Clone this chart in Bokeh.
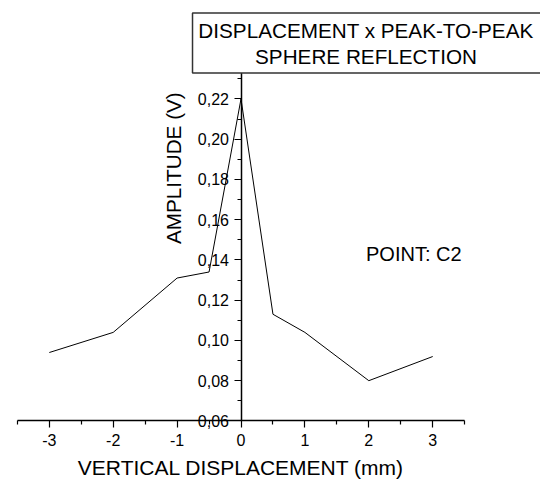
import math
from bokeh.plotting import figure
from bokeh.models import Range1d, FixedTicker, CustomJSTickFormatter, Label, BoxAnnotation
from bokeh.embed import file_html
from bokeh.resources import INLINE

# ---- data ----
displacement = [-3, -2, -1, -0.5, 0, 0.5, 1, 2, 3]
amplitude = [0.094, 0.104, 0.131, 0.134, 0.220, 0.113, 0.104, 0.080, 0.092]

x_ticks = [-3, -2, -1, 0, 1, 2, 3]
x_minor = [-3.5, -2.5, -1.5, -0.5, 0.5, 1.5, 2.5, 3.5]
y_ticks = [0.06, 0.08, 0.10, 0.12, 0.14, 0.16, 0.18, 0.20, 0.22]
y_minor = [0.07, 0.09, 0.11, 0.13, 0.15, 0.17, 0.19, 0.21, 0.23]

title_lines = ["DISPLACEMENT x PEAK-TO-PEAK", "SPHERE REFLECTION"]
x_label = "VERTICAL DISPLACEMENT (mm)"
y_label = "AMPLITUDE (V)"
note = "POINT: C2"

FONT = "Liberation Sans"

p = figure(width=540, height=479, output_backend="svg", toolbar_location=None,
           x_range=Range1d(-3.764, 4.687), y_range=Range1d(0.0309, 0.2689),
           min_border=0, min_border_left=0, min_border_right=0,
           min_border_top=0, min_border_bottom=0)
p.outline_line_color = None
p.grid.visible = False
p.background_fill_color = "white"
p.border_fill_color = "white"

p.line(displacement, amplitude, line_color="black", line_width=1)

# axes crossing inside the frame
xa = p.xaxis[0]
ya = p.yaxis[0]
xa.fixed_location = 0.06
ya.fixed_location = 0
xa.bounds = (-3.5, 3.5)
ya.bounds = (0.06, 0.2329)
xa.ticker = FixedTicker(ticks=x_ticks, minor_ticks=x_minor)
ya.ticker = FixedTicker(ticks=y_ticks, minor_ticks=y_minor)
xa.formatter = CustomJSTickFormatter(code="return tick.toFixed(0);")
ya.formatter = CustomJSTickFormatter(code="return tick.toFixed(2).replace('.', ',');")
for ax in (xa, ya):
    ax.axis_line_color = "black"
    ax.axis_line_width = 1.5
    ax.major_tick_line_color = "black"
    ax.minor_tick_line_color = "black"
    ax.major_tick_line_width = 1.2
    ax.minor_tick_line_width = 1.2
    ax.major_tick_in = 0
    ax.minor_tick_in = 0
    ax.major_tick_out = 7
    ax.minor_tick_out = 4
    ax.major_label_text_font = FONT
    ax.major_label_text_font_size = "16px"
    ax.major_label_text_color = "black"
    ax.axis_label = None
xa.major_label_standoff = 6
ya.major_label_standoff = 5

# axis titles
p.add_layout(Label(x=0.0, y=0.0367, text=x_label, text_font=FONT,
                   text_font_size="21px", text_align="center",
                   text_baseline="alphabetic", text_color="black"))
p.add_layout(Label(x=-1.064, y=0.1856, text=y_label, text_font=FONT,
                   text_font_size="20.7px", text_align="center",
                   text_baseline="middle", angle=math.pi / 2, text_color="black"))

# note
p.add_layout(Label(x=1.956, y=0.1428, text=note, text_font=FONT,
                   text_font_size="20px", text_align="left",
                   text_baseline="alphabetic", text_color="black"))

# title box
p.add_layout(BoxAnnotation(left=-0.759, right=10, top=0.2627, bottom=0.2329,
                           fill_color="white", fill_alpha=1.0,
                           line_color="#333333", line_width=1.5, line_alpha=1.0))
p.add_layout(Label(x=1.956, y=0.2541, text=title_lines[0], text_font=FONT,
                   text_font_size="20.7px", text_align="center",
                   text_baseline="alphabetic", text_color="black"))
p.add_layout(Label(x=1.956, y=0.2411, text=title_lines[1], text_font=FONT,
                   text_font_size="20.7px", text_align="center",
                   text_baseline="alphabetic", text_color="black"))

open("out.html", "w").write(file_html(p, INLINE))
